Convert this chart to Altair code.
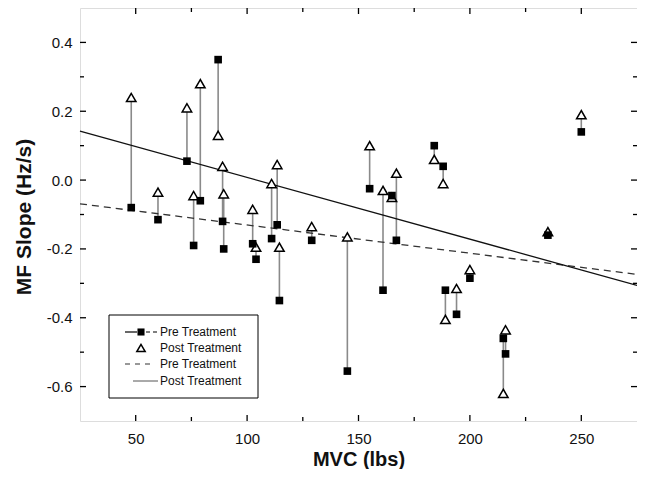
import altair as alt
import pandas as pd

# ---- data ----
mvc = [48, 60, 73, 76, 79, 87, 89, 89.5, 102.5, 104, 111, 113.5, 114.5, 129, 145,
       155, 161, 165, 167, 184, 188, 189, 194, 200, 215, 216, 235, 250]
pre = [-0.08, -0.115, 0.055, -0.19, -0.06, 0.35, -0.12, -0.20, -0.185, -0.23, -0.17,
       -0.13, -0.35, -0.175, -0.555, -0.025, -0.32, -0.045, -0.175, 0.10, 0.04, -0.32,
       -0.39, -0.285, -0.46, -0.505, -0.16, 0.14]
post = [0.24, -0.035, 0.21, -0.045, 0.28, 0.13, 0.04, -0.04, -0.085, -0.195, -0.01,
        0.045, -0.195, -0.135, -0.165, 0.10, -0.03, -0.05, 0.02, 0.06, -0.01, -0.405,
        -0.315, -0.26, -0.62, -0.435, -0.15, 0.19]

fit_x = [25, 275]
pre_fit = [-0.069, -0.274]
post_fit = [0.142, -0.306]

x_major = [50, 100, 150, 200, 250]
x_minor = [75, 125, 175, 225]
y_major = [-0.6, -0.4, -0.2, 0.0, 0.2, 0.4]
y_minor = [-0.5, -0.3, -0.1, 0.1, 0.3]

legend_labels = ["Pre Treatment", "Post Treatment", "Pre Treatment", "Post Treatment"]

# ---- layout ----
W, H = 557, 413
FONT = "Liberation Sans"

df = pd.DataFrame({"mvc": mvc, "pre": pre, "post": post})
fit = pd.DataFrame({"x": fit_x, "pre_fit": pre_fit, "post_fit": post_fit})

xs = alt.Scale(domain=[25, 275], nice=False, zero=False)
ys = alt.Scale(domain=[-0.7, 0.5], nice=False, zero=False)

x_axis = alt.Axis(values=x_major, title="MVC (lbs)", grid=False, domain=False,
                  ticks=False, tickSize=0, labelPadding=10, labelFontSize=15,
                  labelFont=FONT, labelColor="#111", titleFont=FONT, titleFontSize=20,
                  titleFontWeight="bold", titleColor="#111", titleY=38,
                  titleBaseline="middle")
y_axis = alt.Axis(values=y_major, title="MF Slope (Hz/s)", grid=False, domain=False,
                  ticks=False, tickSize=0, labelPadding=8, labelFontSize=15,
                  labelFont=FONT, labelColor="#111",
                  labelExpr="replace(format(datum.value, '.1f'), '\u2212', '-')",
                  titleFont=FONT, titleFontSize=21, titleFontWeight="bold",
                  titleColor="#111", titleX=-56, titleY=H / 2 + 2, titleAngle=270,
                  titleAlign="center", titleBaseline="middle")

def X(f):
    return alt.X(f, scale=xs, axis=x_axis)

def Y(f):
    return alt.Y(f, scale=ys, axis=y_axis)

connectors = alt.Chart(df).mark_rule(color="#8a8a8a", strokeWidth=1.6).encode(
    x=X("mvc:Q"), y=Y("pre:Q"), y2="post:Q")

pre_line = alt.Chart(fit).mark_line(color="#333", strokeWidth=1.3,
                                    strokeDash=[7, 5]).encode(x=X("x:Q"), y=Y("pre_fit:Q"))
post_line = alt.Chart(fit).mark_line(color="#111", strokeWidth=1.3).encode(
    x=X("x:Q"), y=Y("post_fit:Q"))

tri = alt.Chart(df).mark_point(shape="triangle-up", fill="white", filled=False,
                               stroke="#000", strokeWidth=1.5, size=90, opacity=1).encode(
    x=X("mvc:Q"), y=Y("post:Q"))
sq = alt.Chart(df).mark_point(shape="square", filled=True, color="#000", size=58,
                              opacity=1).encode(x=X("mvc:Q"), y=Y("pre:Q"))

# inside ticks on all four sides
dxM = pd.DataFrame({"v": x_major})
dxm = pd.DataFrame({"v": x_minor})
dyM = pd.DataFrame({"v": y_major})
dym = pd.DataFrame({"v": y_minor})
tick_layers = []
for d, ln in [(dxM, 6), (dxm, 4)]:
    tick_layers.append(alt.Chart(d).mark_rule(color="#000", strokeWidth=1.3).encode(
        x=X("v:Q"), y=alt.value(H), y2=alt.value(H - ln)))
    tick_layers.append(alt.Chart(d).mark_rule(color="#000", strokeWidth=1.3).encode(
        x=X("v:Q"), y=alt.value(0), y2=alt.value(ln)))
for d, ln in [(dyM, 6), (dym, 4)]:
    tick_layers.append(alt.Chart(d).mark_rule(color="#000", strokeWidth=1.3).encode(
        y=Y("v:Q"), x=alt.value(0), x2=alt.value(ln)))
    tick_layers.append(alt.Chart(d).mark_rule(color="#000", strokeWidth=1.3).encode(
        y=Y("v:Q"), x=alt.value(W), x2=alt.value(W - ln)))

# legend (drawn by hand)
one = pd.DataFrame({"k": [0]})
lx0, lx1, ly0, ly1 = 29, 178, 307, 390
rows = [324, 340, 356, 373]
leg = [alt.Chart(one).mark_rect(fill="white", stroke="#000", strokeWidth=1).encode(
    x=alt.value(lx0), x2=alt.value(lx1), y=alt.value(ly0), y2=alt.value(ly1))]
# row 1: line - square - dashes
leg.append(alt.Chart(one).mark_rule(color="#000", strokeWidth=1.2).encode(
    x=alt.value(45), x2=alt.value(57), y=alt.value(rows[0])))
leg.append(alt.Chart(one).mark_rule(color="#000", strokeWidth=1.2, strokeDash=[4, 3]).encode(
    x=alt.value(66), x2=alt.value(77), y=alt.value(rows[0])))
leg.append(alt.Chart(one).mark_point(shape="square", filled=True, color="#000", size=50,
                                     opacity=1).encode(x=alt.value(61), y=alt.value(rows[0])))
# row 2: triangle
leg.append(alt.Chart(one).mark_point(shape="triangle-up", fill="white", stroke="#000",
                                     strokeWidth=1.5, size=70, opacity=1).encode(
    x=alt.value(61), y=alt.value(rows[1])))
# row 3: dashed
leg.append(alt.Chart(one).mark_rule(color="#333", strokeWidth=1.2, strokeDash=[5, 5]).encode(
    x=alt.value(45), x2=alt.value(72), y=alt.value(rows[2])))
# row 4: solid
leg.append(alt.Chart(one).mark_rule(color="#555", strokeWidth=1).encode(
    x=alt.value(53), x2=alt.value(78), y=alt.value(rows[3])))
for lab, ry in zip(legend_labels, rows):
    leg.append(alt.Chart(pd.DataFrame({"t": [lab]})).mark_text(
        align="left", baseline="middle", font=FONT, fontSize=12, color="#111").encode(
        x=alt.value(80), y=alt.value(ry), text="t:N"))

chart = alt.layer(connectors, pre_line, post_line, tri, sq, *tick_layers, *leg).properties(
    width=W, height=H,
    autosize=alt.AutoSizeParams(type="none"),
    padding={"left": 72, "top": 0, "right": 0, "bottom": 48},
).configure_view(stroke="#000", strokeWidth=1.6).configure(background="white")

chart.save("out.html", embed_options={"renderer": "svg", "actions": False})
